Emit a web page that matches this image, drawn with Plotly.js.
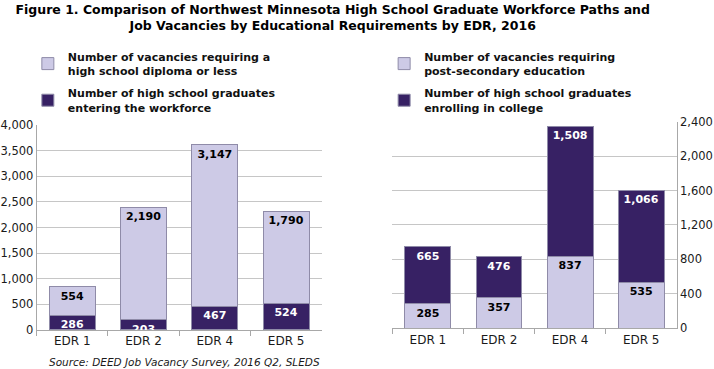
<!DOCTYPE html>
<html>
<head>
<meta charset="utf-8">
<script src="https://cdn.plot.ly/plotly-3.0.1.min.js"></script>
<style>html,body{margin:0;padding:0;background:#fff;}#chart{width:714px;height:369px;}</style>
</head>
<body>
<div id="chart"></div>
<script>
// ---- data ----
const categories = ['EDR 1', 'EDR 2', 'EDR 4', 'EDR 5'];
const gradsEnteringWorkforce = [286, 203, 467, 524];
const vacanciesHighSchool = [554, 2190, 3147, 1790];
const vacanciesPostSecondary = [285, 357, 837, 535];
const gradsEnrollingCollege = [665, 476, 1508, 1066];
const legendNames = {
  vacHS: '<b>Number of vacancies requiring a<br>high school diploma or less</b>',
  gradsWork: '<b>Number of high school graduates<br>entering the workforce</b>',
  vacPS: '<b>Number of vacancies requiring<br>post-secondary education</b>',
  gradsCollege: '<b>Number of high school graduates<br>enrolling in college</b>'
};
const titleText = '<b>Figure 1. Comparison of Northwest Minnesota High School Graduate Workforce Paths and<br>Job Vacancies by Educational Requirements by EDR, 2016</b>';
const sourceText = '<i>Source: DEED Job Vacancy Survey, 2016 Q2, SLEDS</i>';

// ---- styles ----
const FONT = 'DejaVu Sans, Verdana, sans-serif';
const LIGHT = '#cdcae6';
const DARK = '#372164';
const OUTLINE = '#8f8ba8';
const AXIS = '#a8a8a8';
const GRID = '#c6c6c6';

function barTrace(y, xa, ya, name, color, textColor, legend, group, rank) {
  return {
    type: 'bar', x: categories, y: y, xaxis: xa, yaxis: ya, name: name,
    marker: {color: color, line: {color: OUTLINE, width: 1}},
    texttemplate: '%{y:,}', textposition: 'inside', insidetextanchor: 'end',
    textangle: 0, constraintext: 'none',
    insidetextfont: {family: FONT, size: 11, color: textColor, weight: 'bold'},
    legend: legend, legendgroup: group, legendrank: rank, hoverinfo: 'skip'
  };
}

const data = [
  barTrace(gradsEnteringWorkforce, 'x', 'y', legendNames.gradsWork, DARK, '#ffffff', 'legend', 'a2', 2),
  barTrace(vacanciesHighSchool, 'x', 'y', legendNames.vacHS, LIGHT, '#000000', 'legend', 'a1', 1),
  barTrace(vacanciesPostSecondary, 'x2', 'y2', legendNames.vacPS, LIGHT, '#000000', 'legend2', 'b1', 1),
  barTrace(gradsEnrollingCollege, 'x2', 'y2', legendNames.gradsCollege, DARK, '#ffffff', 'legend2', 'b2', 2)
];

const xCommon = {
  showline: true, linecolor: AXIS, linewidth: 1, showgrid: false, zeroline: false,
  ticks: 'outside', tickson: 'boundaries', ticklen: 5, tickcolor: AXIS, tickwidth: 1,
  tickfont: {family: FONT, size: 12, color: '#1a1a1a'}, fixedrange: true
};
const yCommon = {
  showline: true, linecolor: AXIS, linewidth: 1, showgrid: true, gridcolor: GRID, gridwidth: 1,
  zeroline: false, ticks: '', tickformat: ',d',
  tickfont: {family: FONT, size: 11.5, color: '#1a1a1a'}, fixedrange: true
};
const legendCommon = {
  xanchor: 'left', yanchor: 'top', orientation: 'v', traceorder: 'grouped',
  tracegroupgap: 5, bgcolor: 'rgba(0,0,0,0)',
  font: {family: FONT, size: 11, color: '#111111'}
};

const layout = {
  width: 714, height: 369, margin: {l: 0, r: 0, t: 0, b: 0},
  paper_bgcolor: '#ffffff', plot_bgcolor: '#ffffff',
  barmode: 'stack', bargap: 0.355,
  title: {text: titleText, x: 0.466, xanchor: 'center', yref: 'container', y: 0.962, yanchor: 'top',
          font: {family: FONT, size: 12.5, color: '#000000'}},
  xaxis: Object.assign({}, xCommon, {domain: [0.0514, 0.4506], anchor: 'y'}),
  yaxis: Object.assign({}, yCommon, {domain: [0.1057, 0.6612], anchor: 'x', range: [0, 4000], dtick: 500}),
  xaxis2: Object.assign({}, xCommon, {domain: [0.5495, 0.9478], anchor: 'y2'}),
  yaxis2: Object.assign({}, yCommon, {domain: [0.1103, 0.6702], anchor: 'x2', side: 'right', range: [0, 2400], dtick: 400}),
  legend: Object.assign({}, legendCommon, {x: 0.039, y: 0.884}),
  legend2: Object.assign({}, legendCommon, {x: 0.538, y: 0.884}),
  annotations: [{
    text: sourceText, xref: 'paper', yref: 'paper', x: 0.258, y: 0.019,
    xanchor: 'center', yanchor: 'middle', showarrow: false,
    font: {family: FONT, size: 10.5, color: '#1a1a1a'}
  }]
};

Plotly.newPlot('chart', data, layout, {displayModeBar: false, staticPlot: true});
</script>
</body>
</html>
